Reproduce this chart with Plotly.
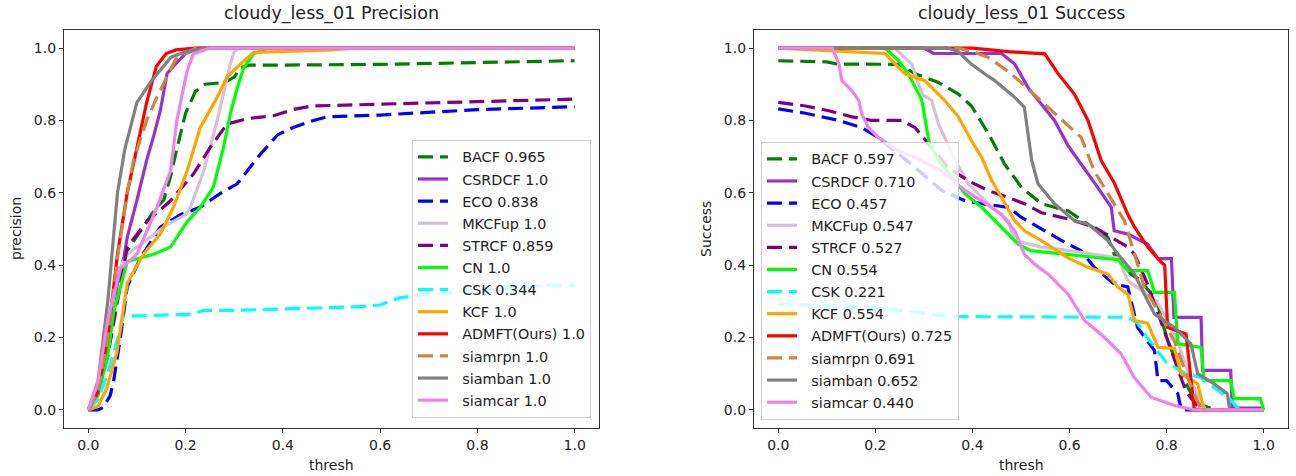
import plotly.graph_objects as go

# ---------------- data ----------------
names = ["BACF", "CSRDCF", "ECO", "MKCFup", "STRCF", "CN", "CSK", "KCF",
         "ADMFT(Ours)", "siamrpn", "siamban", "siamcar"]
prec_scores = ["0.965", "1.0", "0.838", "1.0", "0.859", "1.0", "0.344", "1.0",
               "1.0", "1.0", "1.0", "1.0"]
succ_scores = ["0.597", "0.710", "0.457", "0.547", "0.527", "0.554", "0.221", "0.554",
               "0.725", "0.691", "0.652", "0.440"]
colors = ["#008000", "#9932CC", "#0000FF", "#D8BFD8", "#800080", "#00FF00", "#00FFFF",
          "#FFA500", "#FF0000", "#CD853F", "#808080", "#EE82EE"]
dashed = [True, False, True, False, True, False, True, False, False, True, False, False]

# Precision curves
bacf_prec_x = [0, 0.02, 0.04, 0.06, 0.08, 0.10, 0.12, 0.14, 0.155, 0.17, 0.18, 0.20, 0.22, 0.24, 0.28, 0.30, 0.313, 0.33, 0.40, 0.60, 0.80, 1.0]
bacf_prec_y = [0, 0.05, 0.2, 0.38, 0.44, 0.48, 0.52, 0.56, 0.58, 0.65, 0.71, 0.82, 0.88, 0.90, 0.905, 0.92, 0.946, 0.953, 0.953, 0.955, 0.96, 0.965]
csrdcf_prec_x = [0, 0.02, 0.04, 0.06, 0.072, 0.08, 0.10, 0.12, 0.135, 0.148, 0.162, 0.175, 0.20, 0.23, 1.0]
csrdcf_prec_y = [0, 0.06, 0.2, 0.35, 0.41, 0.477, 0.58, 0.69, 0.76, 0.827, 0.93, 0.95, 0.985, 1.0, 1.0]
eco_prec_x = [0, 0.02, 0.031, 0.045, 0.052, 0.066, 0.08, 0.107, 0.148, 0.19, 0.23, 0.27, 0.306, 0.326, 0.354, 0.389, 0.42, 0.463, 0.49, 0.6, 0.8, 1.0]
eco_prec_y = [0, 0, 0.007, 0.04, 0.08, 0.2, 0.34, 0.42, 0.505, 0.54, 0.56, 0.597, 0.625, 0.66, 0.707, 0.76, 0.78, 0.80, 0.81, 0.815, 0.83, 0.838]
mkcfup_prec_x = [0, 0.02, 0.04, 0.06, 0.08, 0.12, 0.16, 0.20, 0.21, 0.237, 0.265, 0.292, 0.30, 0.31, 1.0]
mkcfup_prec_y = [0, 0.06, 0.2, 0.38, 0.43, 0.47, 0.51, 0.54, 0.56, 0.66, 0.80, 0.957, 0.99, 1.0, 1.0]
strcf_prec_x = [0, 0.02, 0.04, 0.059, 0.08, 0.12, 0.169, 0.216, 0.251, 0.285, 0.326, 0.381, 0.42, 0.46, 0.6, 0.8, 1.0]
strcf_prec_y = [0, 0.05, 0.15, 0.29, 0.45, 0.52, 0.578, 0.652, 0.726, 0.79, 0.805, 0.813, 0.83, 0.84, 0.845, 0.85, 0.859]
cn_prec_x = [0, 0.02, 0.04, 0.052, 0.08, 0.134, 0.169, 0.203, 0.23, 0.257, 0.278, 0.292, 0.306, 0.32, 0.34, 0.37, 1.0]
cn_prec_y = [0, 0.04, 0.15, 0.27, 0.41, 0.43, 0.45, 0.52, 0.56, 0.615, 0.726, 0.818, 0.89, 0.947, 0.984, 1.0, 1.0]
csk_prec_x = [0, 0.02, 0.04, 0.052, 0.072, 0.10, 0.216, 0.237, 0.30, 0.45, 0.55, 0.60, 0.64, 0.70, 0.80, 0.95, 1.0]
csk_prec_y = [0, 0.03, 0.1, 0.155, 0.26, 0.26, 0.265, 0.275, 0.275, 0.28, 0.285, 0.29, 0.31, 0.32, 0.33, 0.345, 0.344]
kcf_prec_x = [0, 0.02, 0.038, 0.059, 0.08, 0.113, 0.148, 0.175, 0.203, 0.23, 0.265, 0.285, 0.313, 0.34, 0.5, 0.55, 1.0]
kcf_prec_y = [0, 0.01, 0.06, 0.16, 0.35, 0.43, 0.486, 0.56, 0.66, 0.78, 0.864, 0.92, 0.956, 0.988, 0.995, 1.0, 1.0]
admft_prec_x = [0, 0.02, 0.04, 0.06, 0.08, 0.10, 0.12, 0.14, 0.16, 0.18, 0.22, 1.0]
admft_prec_y = [0, 0.05, 0.2, 0.43, 0.6, 0.72, 0.85, 0.95, 0.985, 0.995, 1.0, 1.0]
siamrpn_prec_x = [0, 0.02, 0.04, 0.06, 0.08, 0.093, 0.12, 0.141, 0.169, 0.18, 0.22, 1.0]
siamrpn_prec_y = [0, 0.05, 0.2, 0.42, 0.6, 0.69, 0.80, 0.864, 0.94, 0.97, 1.0, 1.0]
siamban_prec_x = [0, 0.02, 0.04, 0.06, 0.075, 0.10, 0.13, 0.17, 0.20, 0.24, 1.0]
siamban_prec_y = [0, 0.08, 0.3, 0.6, 0.72, 0.85, 0.91, 0.975, 0.99, 1.0, 1.0]
siamcar_prec_x = [0, 0.02, 0.04, 0.066, 0.10, 0.141, 0.169, 0.182, 0.203, 0.216, 0.25, 1.0]
siamcar_prec_y = [0, 0.08, 0.25, 0.39, 0.43, 0.56, 0.66, 0.80, 0.937, 0.984, 1.0, 1.0]

# Success curves
bacf_succ_x = [0, 0.10, 0.12, 0.25, 0.282, 0.33, 0.371, 0.398, 0.433, 0.466, 0.501, 0.542, 0.597, 0.638, 0.679, 0.692, 0.727, 0.747, 0.78, 0.80, 0.83, 0.86, 0.90, 1.0]
bacf_succ_y = [0.965, 0.962, 0.956, 0.955, 0.929, 0.905, 0.873, 0.84, 0.763, 0.68, 0.615, 0.57, 0.55, 0.514, 0.477, 0.43, 0.375, 0.357, 0.30, 0.2, 0.1, 0.02, 0.0, 0.0]
csrdcf_succ_x = [0, 0.30, 0.32, 0.46, 0.487, 0.515, 0.542, 0.569, 0.597, 0.624, 0.658, 0.686, 0.692, 0.72, 0.761, 0.782, 0.81, 0.815, 0.871, 0.874, 0.932, 0.935, 1.0]
csrdcf_succ_y = [1.0, 1.0, 0.985, 0.985, 0.956, 0.89, 0.845, 0.80, 0.73, 0.68, 0.615, 0.56, 0.495, 0.486, 0.458, 0.418, 0.418, 0.256, 0.256, 0.109, 0.109, 0.005, 0.005]
eco_succ_x = [0, 0.056, 0.125, 0.172, 0.206, 0.282, 0.337, 0.385, 0.419, 0.474, 0.501, 0.556, 0.597, 0.624, 0.651, 0.692, 0.72, 0.74, 0.775, 0.782, 0.80, 0.823, 0.83, 1.0]
eco_succ_y = [0.832, 0.82, 0.80, 0.78, 0.753, 0.67, 0.606, 0.578, 0.57, 0.56, 0.532, 0.49, 0.458, 0.44, 0.394, 0.348, 0.34, 0.228, 0.164, 0.081, 0.081, 0.045, 0.0, 0.0]
mkcfup_succ_x = [0, 0.24, 0.275, 0.296, 0.316, 0.33, 0.343, 0.364, 0.392, 0.44, 0.474, 0.487, 0.542, 0.60, 0.70, 0.72, 0.78, 0.82, 0.85, 0.88, 1.0]
mkcfup_succ_y = [1.0, 1.0, 0.955, 0.873, 0.855, 0.79, 0.753, 0.69, 0.624, 0.56, 0.523, 0.468, 0.45, 0.44, 0.42, 0.357, 0.3, 0.2, 0.08, 0.0, 0.0]
strcf_succ_x = [0, 0.056, 0.104, 0.152, 0.193, 0.234, 0.255, 0.282, 0.31, 0.35, 0.392, 0.433, 0.474, 0.507, 0.542, 0.597, 0.651, 0.686, 0.72, 0.734, 0.76, 0.80, 0.84, 0.87, 1.0]
strcf_succ_y = [0.85, 0.84, 0.827, 0.81, 0.80, 0.80, 0.80, 0.78, 0.735, 0.67, 0.633, 0.606, 0.587, 0.57, 0.545, 0.528, 0.505, 0.477, 0.45, 0.43, 0.35, 0.2, 0.05, 0.0, 0.0]
cn_succ_x = [0, 0.22, 0.248, 0.268, 0.296, 0.31, 0.33, 0.364, 0.385, 0.419, 0.446, 0.474, 0.494, 0.52, 0.583, 0.679, 0.70, 0.72, 0.761, 0.775, 0.816, 0.823, 0.871, 0.877, 0.932, 0.939, 0.993, 1.0]
cn_succ_y = [1.0, 1.0, 0.965, 0.929, 0.855, 0.744, 0.69, 0.633, 0.597, 0.56, 0.523, 0.486, 0.458, 0.44, 0.432, 0.418, 0.415, 0.385, 0.385, 0.325, 0.325, 0.183, 0.173, 0.081, 0.081, 0.031, 0.031, 0.0]
csk_succ_x = [0, 0.20, 0.31, 0.35, 0.72, 0.74, 0.76, 0.80, 0.84, 0.87, 0.90, 0.93, 0.95, 1.0]
csk_succ_y = [0.293, 0.283, 0.265, 0.258, 0.256, 0.24, 0.2, 0.13, 0.1, 0.09, 0.06, 0.03, 0.0, 0.0]
kcf_succ_x = [0, 0.186, 0.22, 0.234, 0.261, 0.302, 0.343, 0.371, 0.398, 0.419, 0.44, 0.46, 0.487, 0.507, 0.542, 0.597, 0.638, 0.679, 0.70, 0.72, 0.734, 0.761, 0.782, 0.816, 0.83, 0.864, 0.877, 1.0]
kcf_succ_y = [1.0, 0.988, 0.985, 0.965, 0.929, 0.91, 0.855, 0.81, 0.744, 0.698, 0.633, 0.587, 0.523, 0.495, 0.468, 0.42, 0.394, 0.375, 0.339, 0.32, 0.247, 0.24, 0.173, 0.17, 0.10, 0.072, 0.0, 0.0]
admft_succ_x = [0, 0.40, 0.474, 0.549, 0.576, 0.61, 0.638, 0.665, 0.693, 0.72, 0.734, 0.761, 0.789, 0.796, 0.802, 0.84, 0.857, 1.0]
admft_succ_y = [1.0, 1.0, 0.99, 0.984, 0.93, 0.873, 0.80, 0.69, 0.625, 0.54, 0.505, 0.45, 0.408, 0.40, 0.228, 0.21, 0.0, 0.0]
siamrpn_succ_x = [0, 0.37, 0.40, 0.433, 0.48, 0.528, 0.569, 0.61, 0.624, 0.651, 0.679, 0.713, 0.734, 0.754, 0.782, 0.816, 0.843, 0.871, 1.0]
siamrpn_succ_y = [1.0, 1.0, 0.99, 0.974, 0.929, 0.87, 0.822, 0.77, 0.753, 0.66, 0.597, 0.523, 0.43, 0.339, 0.274, 0.19, 0.09, 0.0, 0.0]
siamban_succ_x = [0, 0.35, 0.371, 0.398, 0.425, 0.446, 0.487, 0.507, 0.522, 0.535, 0.569, 0.61, 0.638, 0.679, 0.70, 0.734, 0.754, 0.775, 0.816, 0.85, 0.864, 0.898, 0.925, 0.93, 1.0]
siamban_succ_y = [1.0, 1.0, 0.99, 0.955, 0.929, 0.91, 0.864, 0.836, 0.69, 0.625, 0.57, 0.523, 0.514, 0.468, 0.43, 0.375, 0.32, 0.265, 0.228, 0.183, 0.10, 0.072, 0.045, 0.0, 0.0]
siamcar_succ_x = [0, 0.111, 0.125, 0.131, 0.152, 0.166, 0.172, 0.186, 0.206, 0.227, 0.248, 0.282, 0.337, 0.385, 0.419, 0.46, 0.487, 0.507, 0.528, 0.556, 0.597, 0.631, 0.672, 0.706, 0.733, 0.768, 0.816, 0.857, 1.0]
siamcar_succ_y = [1.0, 1.0, 0.956, 0.91, 0.882, 0.855, 0.818, 0.78, 0.753, 0.735, 0.716, 0.698, 0.66, 0.606, 0.578, 0.54, 0.495, 0.43, 0.403, 0.375, 0.32, 0.247, 0.20, 0.155, 0.09, 0.035, 0.012, 0.0, 0.0]

tick_vals = [0.0, 0.2, 0.4, 0.6, 0.8, 1.0]

prec_x = [bacf_prec_x, csrdcf_prec_x, eco_prec_x, mkcfup_prec_x, strcf_prec_x, cn_prec_x,
          csk_prec_x, kcf_prec_x, admft_prec_x, siamrpn_prec_x, siamban_prec_x, siamcar_prec_x]
prec_y = [bacf_prec_y, csrdcf_prec_y, eco_prec_y, mkcfup_prec_y, strcf_prec_y, cn_prec_y,
          csk_prec_y, kcf_prec_y, admft_prec_y, siamrpn_prec_y, siamban_prec_y, siamcar_prec_y]
succ_x = [bacf_succ_x, csrdcf_succ_x, eco_succ_x, mkcfup_succ_x, strcf_succ_x, cn_succ_x,
          csk_succ_x, kcf_succ_x, admft_succ_x, siamrpn_succ_x, siamban_succ_x, siamcar_succ_x]
succ_y = [bacf_succ_y, csrdcf_succ_y, eco_succ_y, mkcfup_succ_y, strcf_succ_y, cn_succ_y,
          csk_succ_y, kcf_succ_y, admft_succ_y, siamrpn_succ_y, siamban_succ_y, siamcar_succ_y]

# ---------------- figure ----------------
W, H = 1296, 476
FONT = "DejaVu Sans"
TXT = "#222222"
LW = 3.2
DASH = "15px,7px"
NB = "\u00a0\u00a0"


def px_x(p):
    return p / W


def px_y(p):
    return 1 - p / H


fig = go.Figure()
for i, n in enumerate(names):
    line = dict(color=colors[i], width=LW, dash=DASH if dashed[i] else "solid")
    fig.add_trace(go.Scatter(x=prec_x[i], y=prec_y[i], mode="lines", line=line,
                             name=f"{NB}{n} {prec_scores[i]}", legend="legend",
                             legendgroup=f"p{i}", xaxis="x", yaxis="y"))
for i, n in enumerate(names):
    line = dict(color=colors[i], width=LW, dash=DASH if dashed[i] else "solid")
    fig.add_trace(go.Scatter(x=succ_x[i], y=succ_y[i], mode="lines", line=line,
                             name=f"{NB}{n} {succ_scores[i]}", legend="legend2",
                             legendgroup=f"s{i}", xaxis="x2", yaxis="y2"))

ax_common = dict(range=[-0.05, 1.05], tickvals=tick_vals, tickformat=".1f",
                 showline=True, mirror=True, linecolor="#333333", linewidth=1.2,
                 ticks="outside", ticklen=4, tickwidth=1, tickcolor="#333333",
                 showgrid=False, zeroline=False,
                 tickfont=dict(family=FONT, size=14, color=TXT))

legend_common = dict(bgcolor="rgba(255,255,255,0.8)", bordercolor="#d0d0d0", borderwidth=1,
                     font=dict(family=FONT, size=14.4, color=TXT), tracegroupgap=0.4,
                     itemwidth=30, yanchor="bottom")

fig.update_layout(
    width=W, height=H,
    margin=dict(l=0, r=0, t=0, b=0),
    paper_bgcolor="white", plot_bgcolor="white",
    showlegend=True,
    hovermode=False,
    xaxis=dict(domain=[px_x(64), px_x(599)], anchor="y", **ax_common),
    yaxis=dict(domain=[px_y(428), px_y(30)], anchor="x", **ax_common),
    xaxis2=dict(domain=[px_x(754), px_x(1288)], anchor="y2", **ax_common),
    yaxis2=dict(domain=[px_y(428), px_y(30)], anchor="x2", **ax_common),
    legend=dict(x=px_x(591), xanchor="right", y=px_y(418), **legend_common),
    legend2=dict(x=px_x(761), xanchor="left", y=px_y(420), **legend_common),
)

ann_font = dict(family=FONT, size=14, color=TXT)
title_font = dict(family=FONT, size=17.5, color=TXT)
anns = [
    dict(text="cloudy_less_01 Precision", x=px_x((64 + 599) / 2), y=px_y(13), font=title_font),
    dict(text="cloudy_less_01 Success", x=px_x((754 + 1288) / 2), y=px_y(13), font=title_font),
    dict(text="thresh", x=px_x((64 + 599) / 2), y=px_y(465), font=ann_font),
    dict(text="thresh", x=px_x((754 + 1288) / 2), y=px_y(465), font=ann_font),
    dict(text="precision", x=px_x(16), y=px_y(229), font=ann_font, textangle=-90),
    dict(text="Success", x=px_x(706), y=px_y(229), font=ann_font, textangle=-90),
]
for a in anns:
    fig.add_annotation(xref="paper", yref="paper", showarrow=False,
                       xanchor="center", yanchor="middle", **a)

# remove the default 8px page margin so the figure fills the window exactly
fig.write_html("out.html",
               config={"displayModeBar": False},
               post_script="document.body.style.margin='0';document.body.style.overflow='hidden';")
